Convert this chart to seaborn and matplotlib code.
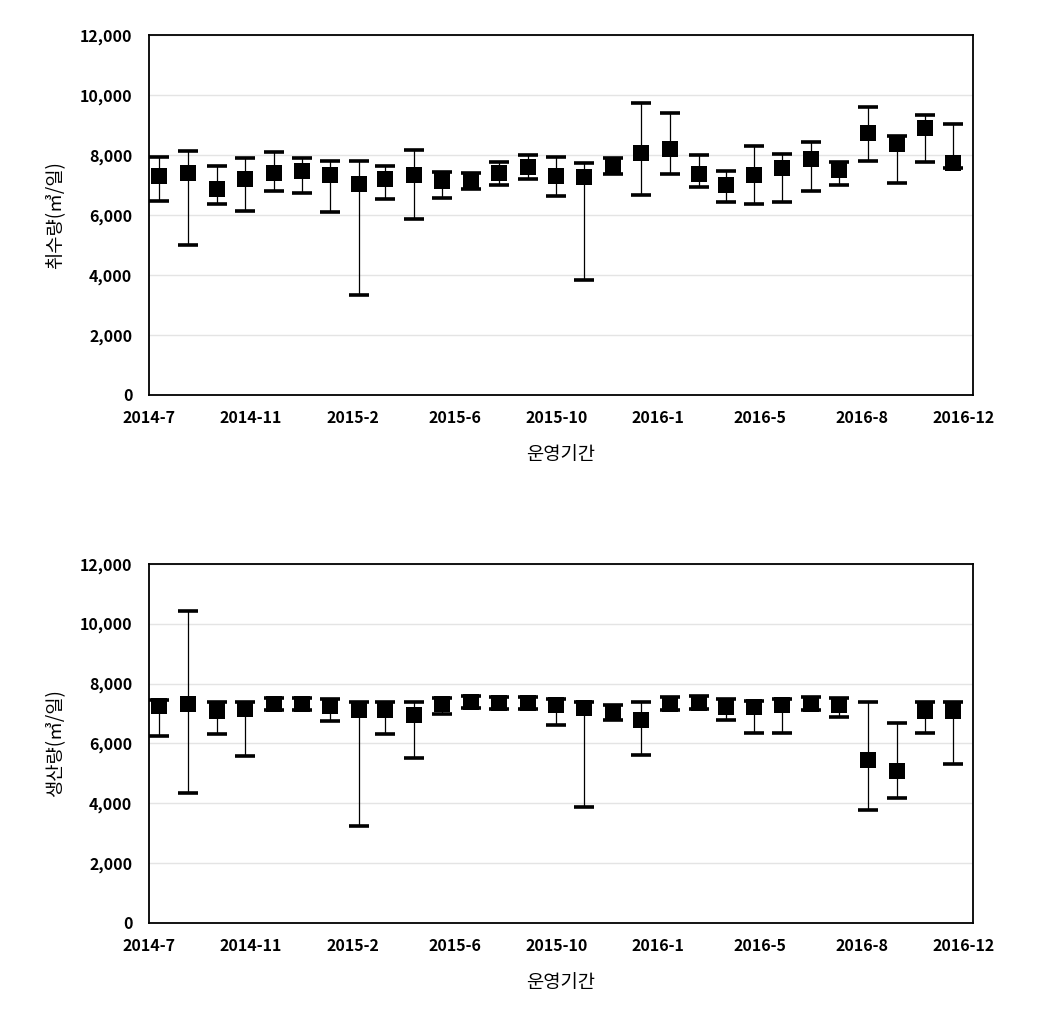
import numpy as np
import pandas as pd
import matplotlib
matplotlib.use("Agg")
import matplotlib.pyplot as plt
import seaborn as sns
from matplotlib.ticker import FuncFormatter

# I set the visual style, then the font list (Korean first)
sns.set_theme(style="white")
plt.rcParams['font.family'] = ['Noto Sans CJK KR', 'DejaVu Sans']

# 1. DATA (monthly mean / max / min)

months = ['2014-7', '2014-8', '2014-9', '2014-10', '2014-11', '2014-12',
          '2015-1', '2015-2', '2015-3', '2015-4', '2015-5', '2015-6',
          '2015-7', '2015-8', '2015-9', '2015-10', '2015-11', '2015-12',
          '2016-1', '2016-2', '2016-3', '2016-4', '2016-5', '2016-6',
          '2016-7', '2016-8', '2016-9', '2016-10', '2016-11']

intake_mean = [7310, 7390, 6870, 7190, 7410, 7460, 7320, 7040, 7190, 7340,
               7140, 7100, 7390, 7610, 7310, 7280, 7630, 8080, 8200, 7380,
               7000, 7330, 7560, 7870, 7500, 8720, 8370, 8890, 7720]
intake_max = [7940, 8140, 7620, 7890, 8110, 7890, 7810, 7810, 7620, 8170,
              7420, 7390, 7780, 8000, 7930, 7720, 7890, 9720, 9410, 8000,
              7470, 8300, 8030, 8440, 7780, 9610, 8640, 9340, 9030]
intake_min = [6460, 4990, 6360, 6140, 6800, 6730, 6110, 3340, 6530, 5880,
              6570, 6860, 7000, 7190, 6630, 3830, 7360, 6670, 7360, 6940,
              6420, 6360, 6420, 6810, 7010, 7810, 7080, 7780, 7560]

prod_mean = [7260, 7320, 7100, 7160, 7310, 7310, 7260, 7120, 7120, 6950,
             7320, 7380, 7350, 7350, 7280, 7180, 7030, 6790, 7320, 7350,
             7230, 7210, 7270, 7320, 7290, 5450, 5090, 7100, 7090]
prod_max = [7460, 10410, 7370, 7390, 7510, 7510, 7480, 7370, 7370, 7390,
            7510, 7590, 7550, 7550, 7480, 7370, 7290, 7380, 7550, 7570,
            7480, 7430, 7480, 7550, 7510, 7370, 6680, 7370, 7370]
prod_min = [6260, 4340, 6330, 5590, 7120, 7120, 6750, 3240, 6300, 5510,
            6980, 7200, 7160, 7160, 6610, 3860, 6790, 5620, 7120, 7160,
            6790, 6340, 6360, 7120, 6870, 3760, 4170, 6360, 5310]

tick_labels = ['2014-7', '2014-11', '2015-2', '2015-6', '2015-10',
               '2016-1', '2016-5', '2016-8', '2016-12']

# I place each month's point a few days into the month
dates = pd.to_datetime(months, format='%Y-%m') + pd.Timedelta(days=11)
x_start = pd.Timestamp('2014-07-01')
x_end = x_start + pd.Timedelta(days=886)
tick_pos = [x_start + pd.Timedelta(days=109.5 * k) for k in range(len(tick_labels))]


# 2. PLOTTING

def draw_panel(ax, mean, vmax, vmin, ylabel):
    df = pd.DataFrame({'date': dates, 'mean': mean, 'max': vmax, 'min': vmin})
    yerr = [df['mean'] - df['min'], df['max'] - df['mean']]
    ax.errorbar(df['date'], df['mean'], yerr=yerr, fmt='none', ecolor='black',
                elinewidth=0.9, capsize=7, capthick=2.6, zorder=2)
    sns.scatterplot(data=df, x='date', y='mean', ax=ax, marker='s', s=145,
                    color='black', edgecolor='black', linewidth=0, zorder=3)

    ax.set_xlim(x_start, x_end)
    ax.set_xticks(tick_pos)
    ax.set_xticklabels(tick_labels)
    ax.set_ylim(0, 12000)
    ax.set_yticks(np.arange(0, 12001, 2000))
    ax.yaxis.set_major_formatter(FuncFormatter(lambda v, p: f"{v:,.0f}"))

    ax.grid(axis='y', color='#e4e4e4', linewidth=1)
    ax.set_axisbelow(True)
    for sp in ax.spines.values():
        sp.set_color('black')
        sp.set_linewidth(1.3)

    ax.tick_params(axis='both', length=0, labelsize=11.5, colors='black')
    ax.tick_params(axis='x', pad=11)
    ax.tick_params(axis='y', pad=12)
    for lbl in ax.get_xticklabels() + ax.get_yticklabels():
        lbl.set_fontweight('bold')

    ax.set_xlabel('운영기간', fontsize=13.5, color='black', labelpad=13)
    ax.set_ylabel(ylabel, fontsize=13.5, color='black', labelpad=10)


fig = plt.figure(figsize=(10.37, 10.27), dpi=100)
ax_top = fig.add_axes([0.1437, 0.6154, 0.7946, 0.3505])
ax_bot = fig.add_axes([0.1437, 0.1013, 0.7946, 0.3496])

draw_panel(ax_top, intake_mean, intake_max, intake_min, '취수량(㎥/일)')
draw_panel(ax_bot, prod_mean, prod_max, prod_min, '생산량(㎥/일)')

plt.savefig("out.png", dpi=100)
